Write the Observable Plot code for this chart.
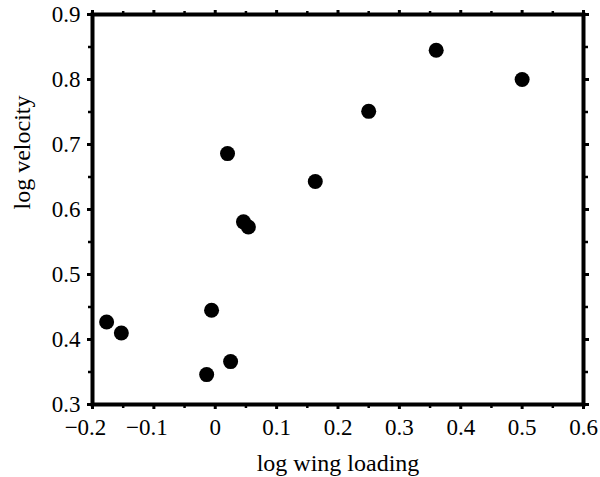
<!DOCTYPE html>
<html>
<head>
<meta charset="utf-8">
<script src="https://cdn.jsdelivr.net/npm/d3@7"></script>
<script src="https://cdn.jsdelivr.net/npm/@observablehq/plot@0.6"></script>
<style>
  html, body { margin: 0; padding: 0; background: #fff; }
</style>
</head>
<body>
<div id="chart"></div>
<script>
const wingLoading = [-0.177, -0.153, -0.006, -0.014, 0.025, 0.020, 0.046, 0.054, 0.163, 0.250, 0.360, 0.500];
const velocity    = [0.427, 0.410, 0.445, 0.346, 0.366, 0.686, 0.581, 0.573, 0.643, 0.751, 0.845, 0.800];

const xTicks = [-0.2, -0.1, 0, 0.1, 0.2, 0.3, 0.4, 0.5, 0.6];
const xTickLabels = ["−0.2", "−0.1", "0", "0.1", "0.2", "0.3", "0.4", "0.5", "0.6"];
const xMinor = [-0.15, -0.05, 0.05, 0.15, 0.25, 0.35, 0.45, 0.55];
const yTicks = [0.3, 0.4, 0.5, 0.6, 0.7, 0.8, 0.9];
const yTickLabels = ["0.3", "0.4", "0.5", "0.6", "0.7", "0.8", "0.9"];
const yMinor = [0.35, 0.45, 0.55, 0.65, 0.75, 0.85];
const xLabel = "log wing loading";
const yLabel = "log velocity";

const data = wingLoading.map((x, i) => ({x, y: velocity[i]}));
const blank = () => "";
const xLabelOf = (d) => xTickLabels[xTicks.indexOf(d)];
const negTicks = xTicks.filter((d) => d < 0);
const posTicks = xTicks.filter((d) => d >= 0);

const chart = Plot.plot({
  width: 600,
  height: 477,
  marginLeft: 92,
  marginRight: 17,
  marginTop: 14,
  marginBottom: 73,
  style: {fontFamily: "'Liberation Serif', 'Times New Roman', serif", fontSize: "23px", color: "#000", background: "#fff"},
  x: {domain: [-0.2, 0.6]},
  y: {domain: [0.3, 0.9]},
  marks: [
    Plot.axisX({anchor: "bottom", ticks: posTicks, tickFormat: xLabelOf, tickSize: 5, tickPadding: 9, strokeWidth: 3, label: null, fontSize: 23}),
    Plot.axisX({anchor: "bottom", ticks: negTicks, tickFormat: blank, tickSize: 5, strokeWidth: 3, label: null}),
    Plot.axisX({anchor: "bottom", ticks: negTicks, tickFormat: xLabelOf, tickSize: 0, tickPadding: 14, stroke: "none", dx: -7, label: null, fontSize: 23}),
    Plot.axisX({anchor: "bottom", ticks: xMinor, tickFormat: blank, tickSize: 4, strokeWidth: 2.5, label: null}),
    Plot.axisX({anchor: "top", ticks: xTicks, tickFormat: blank, tickSize: 5, strokeWidth: 3, label: null}),
    Plot.axisX({anchor: "top", ticks: xMinor, tickFormat: blank, tickSize: 4, strokeWidth: 2.5, label: null}),
    Plot.axisY({anchor: "left", ticks: yTicks, tickFormat: (d, i) => yTickLabels[i], tickSize: 5, tickPadding: 7, strokeWidth: 3, label: null, fontSize: 23}),
    Plot.axisY({anchor: "left", ticks: yMinor, tickFormat: blank, tickSize: 4, strokeWidth: 2.5, label: null}),
    Plot.axisY({anchor: "right", ticks: yTicks, tickFormat: blank, tickSize: 5, strokeWidth: 3, label: null}),
    Plot.axisY({anchor: "right", ticks: yMinor, tickFormat: blank, tickSize: 4, strokeWidth: 2.5, label: null}),
    Plot.frame({stroke: "#000", strokeWidth: 4}),
    Plot.dot(data, {x: "x", y: "y", r: 7.5, fill: "#000", stroke: "none"}),
    Plot.text([xLabel], {frameAnchor: "bottom", lineAnchor: "top", dy: 49, fontSize: 24, fill: "#000"}),
    Plot.text([yLabel], {frameAnchor: "left", rotate: -90, lineAnchor: "middle", dx: -70, fontSize: 24, fill: "#000"})
  ]
});
document.getElementById("chart").appendChild(chart);
</script>
</body>
</html>
